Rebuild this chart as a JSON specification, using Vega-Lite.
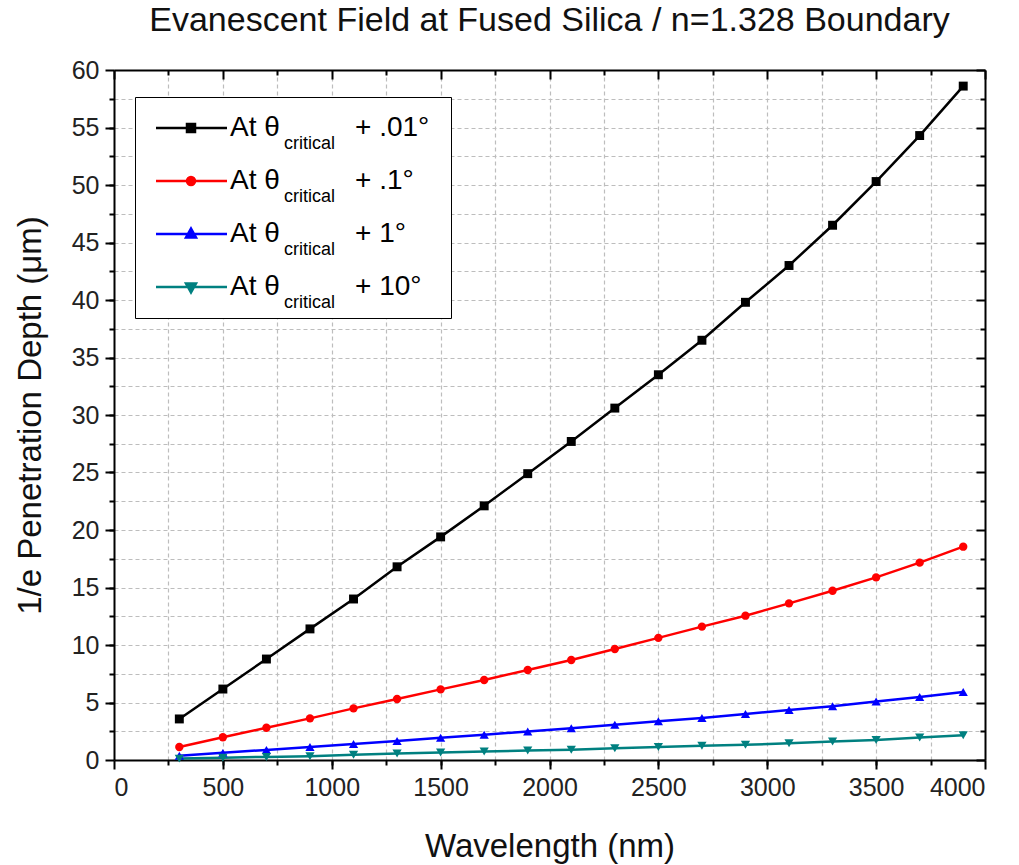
{
  "$schema": "https://vega.github.io/schema/vega-lite/v6.json",
  "width": 871,
  "height": 690,
  "autosize": "none",
  "padding": {"left": 114, "top": 70, "right": 34, "bottom": 105},
  "background": "white",
  "title": {"text": "Evanescent Field at Fused Silica / n=1.328 Boundary", "fontSize": 34, "font": "Liberation Sans", "fontWeight": "normal", "color": "#111111", "anchor": "middle", "offset": 20},
  "config": {
    "view": {"stroke": null},
    "font": "Liberation Sans",
    "axis": {"domainColor": "black", "domainWidth": 2, "tickColor": "black", "tickWidth": 2, "labelFont": "Liberation Sans", "labelFontSize": 25, "labelColor": "#222222", "titleFont": "Liberation Sans", "titleFontSize": 33, "titleFontWeight": "normal", "titleColor": "#111111", "grid": false}
  },
  "data": {"values": [
    {"wavelength": 300, "depth": 3.57, "series": "+ .01°"},
    {"wavelength": 500, "depth": 6.17, "series": "+ .01°"},
    {"wavelength": 700, "depth": 8.78, "series": "+ .01°"},
    {"wavelength": 900, "depth": 11.4, "series": "+ .01°"},
    {"wavelength": 1100, "depth": 14.0, "series": "+ .01°"},
    {"wavelength": 1300, "depth": 16.8, "series": "+ .01°"},
    {"wavelength": 1500, "depth": 19.4, "series": "+ .01°"},
    {"wavelength": 1700, "depth": 22.1, "series": "+ .01°"},
    {"wavelength": 1900, "depth": 24.9, "series": "+ .01°"},
    {"wavelength": 2100, "depth": 27.7, "series": "+ .01°"},
    {"wavelength": 2300, "depth": 30.6, "series": "+ .01°"},
    {"wavelength": 2500, "depth": 33.5, "series": "+ .01°"},
    {"wavelength": 2700, "depth": 36.5, "series": "+ .01°"},
    {"wavelength": 2900, "depth": 39.8, "series": "+ .01°"},
    {"wavelength": 3100, "depth": 43.0, "series": "+ .01°"},
    {"wavelength": 3300, "depth": 46.5, "series": "+ .01°"},
    {"wavelength": 3500, "depth": 50.3, "series": "+ .01°"},
    {"wavelength": 3700, "depth": 54.3, "series": "+ .01°"},
    {"wavelength": 3900, "depth": 58.6, "series": "+ .01°"},
    {"wavelength": 300, "depth": 1.13, "series": "+ .1°"},
    {"wavelength": 500, "depth": 1.98, "series": "+ .1°"},
    {"wavelength": 700, "depth": 2.8, "series": "+ .1°"},
    {"wavelength": 900, "depth": 3.62, "series": "+ .1°"},
    {"wavelength": 1100, "depth": 4.49, "series": "+ .1°"},
    {"wavelength": 1300, "depth": 5.3, "series": "+ .1°"},
    {"wavelength": 1500, "depth": 6.14, "series": "+ .1°"},
    {"wavelength": 1700, "depth": 6.96, "series": "+ .1°"},
    {"wavelength": 1900, "depth": 7.83, "series": "+ .1°"},
    {"wavelength": 2100, "depth": 8.7, "series": "+ .1°"},
    {"wavelength": 2300, "depth": 9.65, "series": "+ .1°"},
    {"wavelength": 2500, "depth": 10.62, "series": "+ .1°"},
    {"wavelength": 2700, "depth": 11.6, "series": "+ .1°"},
    {"wavelength": 2900, "depth": 12.55, "series": "+ .1°"},
    {"wavelength": 3100, "depth": 13.62, "series": "+ .1°"},
    {"wavelength": 3300, "depth": 14.72, "series": "+ .1°"},
    {"wavelength": 3500, "depth": 15.88, "series": "+ .1°"},
    {"wavelength": 3700, "depth": 17.16, "series": "+ .1°"},
    {"wavelength": 3900, "depth": 18.55, "series": "+ .1°"},
    {"wavelength": 300, "depth": 0.36, "series": "+ 1°"},
    {"wavelength": 500, "depth": 0.62, "series": "+ 1°"},
    {"wavelength": 700, "depth": 0.88, "series": "+ 1°"},
    {"wavelength": 900, "depth": 1.14, "series": "+ 1°"},
    {"wavelength": 1100, "depth": 1.4, "series": "+ 1°"},
    {"wavelength": 1300, "depth": 1.66, "series": "+ 1°"},
    {"wavelength": 1500, "depth": 1.94, "series": "+ 1°"},
    {"wavelength": 1700, "depth": 2.2, "series": "+ 1°"},
    {"wavelength": 1900, "depth": 2.48, "series": "+ 1°"},
    {"wavelength": 2100, "depth": 2.76, "series": "+ 1°"},
    {"wavelength": 2300, "depth": 3.06, "series": "+ 1°"},
    {"wavelength": 2500, "depth": 3.36, "series": "+ 1°"},
    {"wavelength": 2700, "depth": 3.66, "series": "+ 1°"},
    {"wavelength": 2900, "depth": 4.0, "series": "+ 1°"},
    {"wavelength": 3100, "depth": 4.34, "series": "+ 1°"},
    {"wavelength": 3300, "depth": 4.68, "series": "+ 1°"},
    {"wavelength": 3500, "depth": 5.08, "series": "+ 1°"},
    {"wavelength": 3700, "depth": 5.47, "series": "+ 1°"},
    {"wavelength": 3900, "depth": 5.92, "series": "+ 1°"},
    {"wavelength": 300, "depth": 0.12, "series": "+ 10°"},
    {"wavelength": 500, "depth": 0.2, "series": "+ 10°"},
    {"wavelength": 700, "depth": 0.27, "series": "+ 10°"},
    {"wavelength": 900, "depth": 0.33, "series": "+ 10°"},
    {"wavelength": 1100, "depth": 0.45, "series": "+ 10°"},
    {"wavelength": 1300, "depth": 0.56, "series": "+ 10°"},
    {"wavelength": 1500, "depth": 0.66, "series": "+ 10°"},
    {"wavelength": 1700, "depth": 0.74, "series": "+ 10°"},
    {"wavelength": 1900, "depth": 0.82, "series": "+ 10°"},
    {"wavelength": 2100, "depth": 0.9, "series": "+ 10°"},
    {"wavelength": 2300, "depth": 1.02, "series": "+ 10°"},
    {"wavelength": 2500, "depth": 1.14, "series": "+ 10°"},
    {"wavelength": 2700, "depth": 1.24, "series": "+ 10°"},
    {"wavelength": 2900, "depth": 1.32, "series": "+ 10°"},
    {"wavelength": 3100, "depth": 1.46, "series": "+ 10°"},
    {"wavelength": 3300, "depth": 1.6, "series": "+ 10°"},
    {"wavelength": 3500, "depth": 1.74, "series": "+ 10°"},
    {"wavelength": 3700, "depth": 1.96, "series": "+ 10°"},
    {"wavelength": 3900, "depth": 2.16, "series": "+ 10°"}
  ]},
  "resolve": {"axis": {"x": "independent", "y": "independent"}},
  "layer": [
    {
      "mark": {"type": "point", "opacity": 0},
      "encoding": {
        "x": {"field": "wavelength", "type": "quantitative", "scale": {"domain": [0, 4000], "nice": false, "zero": false},
          "axis": {"orient": "bottom", "values": [250, 500, 750, 1000, 1250, 1500, 1750, 2000, 2250, 2500, 2750, 3000, 3250, 3500, 3750], "tickSize": 5, "labels": false, "title": null, "domain": false, "grid": true, "gridDash": [4, 3], "gridColor": "#bdbdbd", "gridWidth": 1.2}},
        "y": {"field": "depth", "type": "quantitative", "scale": {"domain": [0, 60], "nice": false, "zero": false},
          "axis": {"orient": "left", "values": [2.5, 5, 7.5, 10, 12.5, 15, 17.5, 20, 22.5, 25, 27.5, 30, 32.5, 35, 37.5, 40, 42.5, 45, 47.5, 50, 52.5, 55, 57.5], "tickSize": 5, "labels": false, "title": null, "domain": false, "grid": true, "gridDash": [4, 3], "gridColor": "#bdbdbd", "gridWidth": 1.2}}
      }
    },
    {
      "mark": {"type": "point", "opacity": 0},
      "encoding": {
        "x": {"field": "wavelength", "type": "quantitative",
          "axis": {"orient": "top", "values": [250, 750, 1250, 1750, 2250, 2750, 3250, 3750], "tickSize": -5, "labels": false, "title": null, "domain": false}},
        "y": {"field": "depth", "type": "quantitative",
          "axis": {"orient": "right", "values": [2.5, 7.5, 12.5, 17.5, 22.5, 27.5, 32.5, 37.5, 42.5, 47.5, 52.5, 57.5], "tickSize": -5, "labels": false, "title": null, "domain": false}},
        "shape": {"field": "series", "type": "nominal",
          "scale": {"domain": ["+ .01°", "+ .1°", "+ 1°", "+ 10°", "none"], "range": ["circle", "circle", "circle", "circle", "circle"]},
          "legend": {
            "orient": "none", "legendX": 213, "legendY": 44, "title": null, "padding": 0, "zindex": 5,
            "values": ["+ .01°", "+ .1°", "+ 1°", "+ 10°"],
            "labelFontSize": 28, "labelFont": "Liberation Sans", "labelColor": "black", "labelLimit": 300,
            "symbolSize": 16, "labelOffset": 0, "rowPadding": 25, "symbolOpacity": 0,
            "encode": {"symbols": {"update": {"opacity": {"value": 0}}}}
          }}
      }
    },
    {
      "mark": {"type": "line", "opacity": 0, "strokeWidth": 1},
      "encoding": {
        "x": {"field": "wavelength", "type": "quantitative",
          "axis": {"orient": "top", "values": [0, 500, 1000, 1500, 2000, 2500, 3000, 3500, 4000], "tickSize": -9, "labels": false, "title": null}},
        "y": {"field": "depth", "type": "quantitative",
          "axis": {"orient": "right", "values": [0, 5, 10, 15, 20, 25, 30, 35, 40, 45, 50, 55, 60], "tickSize": -9, "labels": false, "title": null}},
        "strokeDash": {"field": "series", "type": "nominal",
          "scale": {"domain": ["+ 1°", "+ 10°", "+ .01°", "+ .1°"], "range": [[1, 0], [1, 0], [1, 0], [1, 0]]},
          "legend": {
            "orient": "none", "legendX": 152, "legendY": 65, "title": null, "padding": 0, "zindex": 5,
            "labelFontSize": 18, "labelFont": "Liberation Sans", "labelColor": "black",
            "labelExpr": "'critical'", "labelLimit": 200,
            "symbolSize": 16, "labelOffset": 0, "rowPadding": 35, "symbolOpacity": 0,
            "encode": {"symbols": {"update": {"opacity": {"value": 0}}}}
          }}
      }
    },
    {
      "mark": {"type": "line", "strokeWidth": 2.5},
      "encoding": {
        "x": {"field": "wavelength", "type": "quantitative",
          "axis": {"orient": "bottom", "values": [0, 500, 1000, 1500, 2000, 2500, 3000, 3500, 4000], "format": "d", "tickSize": 9, "labelPadding": 6, "title": "Wavelength (nm)", "titlePadding": 30}},
        "y": {"field": "depth", "type": "quantitative",
          "axis": {"orient": "left", "values": [0, 5, 10, 15, 20, 25, 30, 35, 40, 45, 50, 55, 60], "format": "d", "tickSize": 9, "labelPadding": 6, "title": "1/e Penetration Depth (μm)", "titlePadding": 24}},
        "color": {"field": "series", "type": "nominal",
          "scale": {"domain": ["+ .01°", "+ .1°", "+ 1°", "+ 10°"], "range": ["#000000", "#ff0000", "#0000ff", "#008080"]},
          "legend": {
            "orient": "none", "legendX": 21, "legendY": 27, "title": null, "zindex": 1,
            "strokeColor": "black", "fillColor": "white", "padding": 17,
            "labelFontSize": 28, "labelFont": "Liberation Sans", "labelColor": "black",
            "labelExpr": "'At θ'", "labelLimit": 400,
            "symbolSize": 400, "labelOffset": 50, "rowPadding": 25,
            "encode": {"symbols": {"update": {
              "shape": {"signal": "datum.value === '+ .01°' ? 'M-1,0H6.1M2.1,-0.4H2.9V0.4H2.1ZM26.3,0' : datum.value === '+ .1°' ? 'M-1,0H6.1M2.9,0A0.4,0.4 0 1,1 2.1,0A0.4,0.4 0 1,1 2.9,0ZM26.3,0' : datum.value === '+ 1°' ? 'M-1,0H6.1M2.5,-0.55L3.0,0.35H2.0ZM26.3,0' : 'M-1,0H6.1M2.5,0.55L3.0,-0.35H2.0ZM26.3,0'"},
              "stroke": {"signal": "scale('color', datum.value)"},
              "fill": {"signal": "scale('color', datum.value)"},
              "strokeWidth": {"value": 2.5},
              "opacity": {"value": 1}
            }}}
          }}
      }
    },
    {
      "transform": [{"filter": "datum.series === '+ .01°'"}],
      "mark": {"type": "point", "filled": true, "opacity": 1, "size": 80, "shape": "square", "color": "#000000"},
      "encoding": {
        "x": {"field": "wavelength", "type": "quantitative", "axis": null},
        "y": {"field": "depth", "type": "quantitative", "axis": null}
      }
    },
    {
      "transform": [{"filter": "datum.series === '+ .1°'"}],
      "mark": {"type": "point", "filled": true, "opacity": 1, "size": 70, "shape": "circle", "color": "#ff0000"},
      "encoding": {
        "x": {"field": "wavelength", "type": "quantitative", "axis": null},
        "y": {"field": "depth", "type": "quantitative", "axis": null}
      }
    },
    {
      "transform": [{"filter": "datum.series === '+ 1°'"}],
      "mark": {"type": "point", "filled": true, "opacity": 1, "size": 85, "shape": "triangle-up", "color": "#0000ff"},
      "encoding": {
        "x": {"field": "wavelength", "type": "quantitative", "axis": null},
        "y": {"field": "depth", "type": "quantitative", "axis": null}
      }
    },
    {
      "transform": [{"filter": "datum.series === '+ 10°'"}],
      "mark": {"type": "point", "filled": true, "opacity": 1, "size": 85, "shape": "triangle-down", "color": "#008080"},
      "encoding": {
        "x": {"field": "wavelength", "type": "quantitative", "axis": null},
        "y": {"field": "depth", "type": "quantitative", "axis": null}
      }
    }
  ]
}
